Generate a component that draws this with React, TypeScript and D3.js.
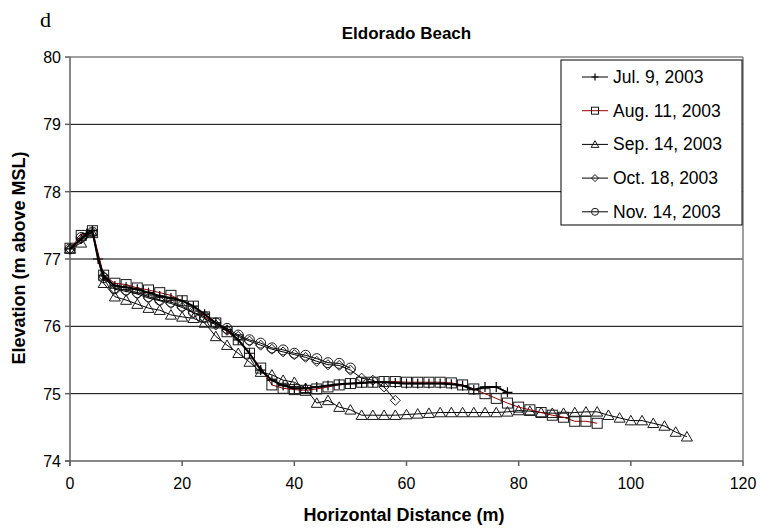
import React from "react";
import * as d3 from "d3";

const julX = [0, 2, 3, 4, 5, 6, 8, 10, 12, 14, 16, 18, 20, 22, 24, 26, 28, 30, 32, 34, 36, 38, 40, 42, 44, 46, 48, 50, 52, 54, 56, 58, 60, 62, 64, 66, 68, 70, 72, 74, 76, 78];
const julY = [77.15, 77.3, 77.38, 77.42, 77.0, 76.75, 76.6, 76.58, 76.55, 76.5, 76.45, 76.42, 76.38, 76.3, 76.18, 76.05, 75.95, 75.8, 75.6, 75.35, 75.2, 75.12, 75.08, 75.08, 75.1, 75.12, 75.14, 75.15, 75.16, 75.17, 75.17, 75.16, 75.15, 75.15, 75.15, 75.15, 75.14, 75.12, 75.06, 75.1, 75.1, 75.02];

const augX = [0, 2, 4, 6, 8, 10, 12, 14, 16, 18, 20, 22, 24, 26, 28, 30, 32, 34, 36, 38, 40, 42, 44, 46, 48, 50, 52, 54, 56, 58, 60, 62, 64, 66, 68, 70, 72, 74, 76, 78, 80, 82, 84, 86, 88, 90, 92, 94];
const augY = [77.16, 77.35, 77.42, 76.76, 76.64, 76.62, 76.57, 76.54, 76.5, 76.46, 76.38, 76.3, 76.14, 76.05, 75.92, 75.8, 75.6, 75.38, 75.13, 75.08, 75.06, 75.05, 75.07, 75.1, 75.13, 75.15, 75.17, 75.17, 75.18, 75.18, 75.17, 75.17, 75.17, 75.17, 75.16, 75.13, 75.07, 75.0, 74.93, 74.86, 74.8, 74.76, 74.72, 74.68, 74.65, 74.59, 74.59, 74.56];

const sepX = [0, 2, 4, 6, 8, 10, 12, 14, 16, 18, 20, 22, 24, 26, 28, 30, 32, 34, 36, 38, 40, 42, 44, 46, 48, 50, 52, 54, 56, 58, 60, 62, 64, 66, 68, 70, 72, 74, 76, 78, 80, 82, 84, 86, 88, 90, 92, 94, 96, 98, 100, 102, 104, 106, 108, 110];
const sepY = [77.15, 77.24, 77.38, 76.64, 76.44, 76.39, 76.33, 76.27, 76.24, 76.17, 76.14, 76.12, 76.05, 75.85, 75.72, 75.6, 75.47, 75.32, 75.28, 75.2, 75.17, 75.08, 74.86, 74.9, 74.8, 74.76, 74.68, 74.68, 74.68, 74.68, 74.69, 74.7, 74.71, 74.72, 74.72, 74.72, 74.72, 74.72, 74.72, 74.73, 74.75, 74.74, 74.72, 74.71, 74.71, 74.72, 74.73, 74.73, 74.68, 74.64, 74.6, 74.6, 74.56, 74.52, 74.43, 74.36];

const octX = [0, 2, 4, 6, 8, 10, 12, 14, 16, 18, 20, 22, 24, 26, 28, 30, 32, 34, 36, 38, 40, 42, 44, 46, 48, 50, 52, 54, 56, 58];
const octY = [77.15, 77.3, 77.4, 76.74, 76.55, 76.52, 76.48, 76.42, 76.38, 76.34, 76.28, 76.2, 76.12, 76.02, 75.94, 75.85, 75.78, 75.72, 75.66, 75.62, 75.58, 75.54, 75.48, 75.43, 75.42, 75.35, 75.23, 75.2, 75.1, 74.9];

const novX = [0, 2, 4, 6, 8, 10, 12, 14, 16, 18, 20, 22, 24, 26, 28, 30, 32, 34, 36, 38, 40, 42, 44, 46, 48, 50];
const novY = [77.15, 77.32, 77.4, 76.72, 76.56, 76.54, 76.5, 76.44, 76.39, 76.36, 76.3, 76.21, 76.14, 76.05, 75.97, 75.87, 75.8, 75.75, 75.68, 75.65, 75.6, 75.57, 75.52, 75.46, 75.45, 75.38];

const seriesNames = ["Jul. 9, 2003", "Aug. 11, 2003", "Sep. 14, 2003", "Oct. 18, 2003", "Nov. 14, 2003"];
const xTicks = [0, 20, 40, 60, 80, 100, 120];
const yTicks = [74, 75, 76, 77, 78, 79, 80];

const W = 761, H = 529;
const L = 70, R = 743, T = 57, B = 461;

type Shape = "plus" | "square" | "triangle" | "diamond" | "circle";

function Marker({ shape, x, y, s }: { shape: Shape; x: number; y: number; s: number }) {
  const h = s / 2;
  const st = { fill: "none", stroke: "#1a1a1a", strokeWidth: 1 };
  if (shape === "plus")
    return <path d={`M${x - h},${y}H${x + h}M${x},${y - h}V${y + h}`} stroke="#000" strokeWidth={1.2} fill="none" />;
  if (shape === "square") return <rect x={x - h} y={y - h} width={s} height={s} {...st} />;
  if (shape === "triangle")
    return <path d={`M${x},${y - h * 1.05}L${x + h * 1.1},${y + h * 0.85}L${x - h * 1.1},${y + h * 0.85}Z`} {...st} />;
  if (shape === "diamond") return <path d={`M${x},${y - h}L${x + h},${y}L${x},${y + h}L${x - h},${y}Z`} {...st} />;
  return <circle cx={x} cy={y} r={h} {...st} />;
}

export default function App() {
  const x = d3.scaleLinear().domain([0, 120]).range([L, R]);
  const y = d3.scaleLinear().domain([74, 80]).range([B, T]);
  const line = d3
    .line<[number, number]>()
    .x((d) => x(d[0]))
    .y((d) => y(d[1]));

  const series: { name: string; xs: number[]; ys: number[]; shape: Shape; color: string; width: number }[] = [
    { name: seriesNames[0], xs: julX, ys: julY, shape: "plus", color: "#000", width: 2 },
    { name: seriesNames[1], xs: augX, ys: augY, shape: "square", color: "#9a0000", width: 1 },
    { name: seriesNames[2], xs: sepX, ys: sepY, shape: "triangle", color: "#000", width: 1 },
    { name: seriesNames[3], xs: octX, ys: octY, shape: "diamond", color: "#000", width: 1 },
    { name: seriesNames[4], xs: novX, ys: novY, shape: "circle", color: "#000", width: 1 },
  ];
  const drawOrder = [2, 4, 3, 1, 0];
  const font = "'Liberation Sans', Arial, sans-serif";

  return (
    <svg width={W} height={H} style={{ position: "absolute", left: 0, top: 0, background: "#fff" }}>
      <rect x={0} y={0} width={W} height={H} fill="#fff" />
      <text x={40} y={27} fontFamily="'Liberation Serif', 'Times New Roman', serif" fontSize={22}>d</text>
      <text x={(L + R) / 2} y={39} textAnchor="middle" fontFamily={font} fontWeight="bold" fontSize={17}>Eldorado Beach</text>

      {yTicks.filter((v) => v > 74 && v < 80).map((v) => (
        <line key={"g" + v} x1={L} x2={R} y1={y(v)} y2={y(v)} stroke="#000" strokeWidth={1} />
      ))}
      <line x1={L} x2={R} y1={T} y2={T} stroke="#808080" strokeWidth={1.5} />
      <line x1={R} x2={R} y1={T} y2={B} stroke="#808080" strokeWidth={1.5} />
      <line x1={L} x2={L} y1={T} y2={B + 5} stroke="#606060" strokeWidth={1.5} />
      <line x1={L - 5} x2={R} y1={B} y2={B} stroke="#606060" strokeWidth={1.5} />
      {yTicks.map((v) => (
        <g key={"y" + v}>
          <line x1={L - 5} x2={L} y1={y(v)} y2={y(v)} stroke="#606060" strokeWidth={1.5} />
          <text x={L - 9} y={y(v) + 6} textAnchor="end" fontFamily={font} fontSize={16}>{v}</text>
        </g>
      ))}
      {xTicks.map((v) => (
        <g key={"x" + v}>
          <line x1={x(v)} x2={x(v)} y1={B} y2={B + 5} stroke="#606060" strokeWidth={1.5} />
          <text x={x(v)} y={489} textAnchor="middle" fontFamily={font} fontSize={16}>{v}</text>
        </g>
      ))}
      <text x={404} y={521} textAnchor="middle" fontFamily={font} fontWeight="bold" fontSize={18}>Horizontal Distance (m)</text>
      <text transform={`translate(25,${258}) rotate(-90)`} textAnchor="middle" fontFamily={font} fontWeight="bold" fontSize={18}>Elevation (m above MSL)</text>

      {drawOrder.map((i) => {
        const s = series[i];
        const pts: [number, number][] = s.xs.map((v, k) => [v, s.ys[k]]);
        return (
          <g key={s.name}>
            <path d={line(pts) || ""} fill="none" stroke={s.color} strokeWidth={s.width} />
            {pts.map((p, k) => (
              <Marker key={k} shape={s.shape} x={x(p[0])} y={y(p[1])} s={10} />
            ))}
          </g>
        );
      })}

      <rect x={561} y={60} width={181} height={165} fill="#fff" stroke="#000" strokeWidth={1} />
      {series.map((s, i) => {
        const cy = 77 + i * 33.7;
        return (
          <g key={"l" + i}>
            <line x1={582} x2={608} y1={cy} y2={cy} stroke={s.color} strokeWidth={1} />
            <Marker shape={s.shape} x={595} y={cy} s={7} />
            <text x={613} y={cy + 6} fontFamily={font} fontSize={17.5}>{s.name}</text>
          </g>
        );
      })}
    </svg>
  );
}
